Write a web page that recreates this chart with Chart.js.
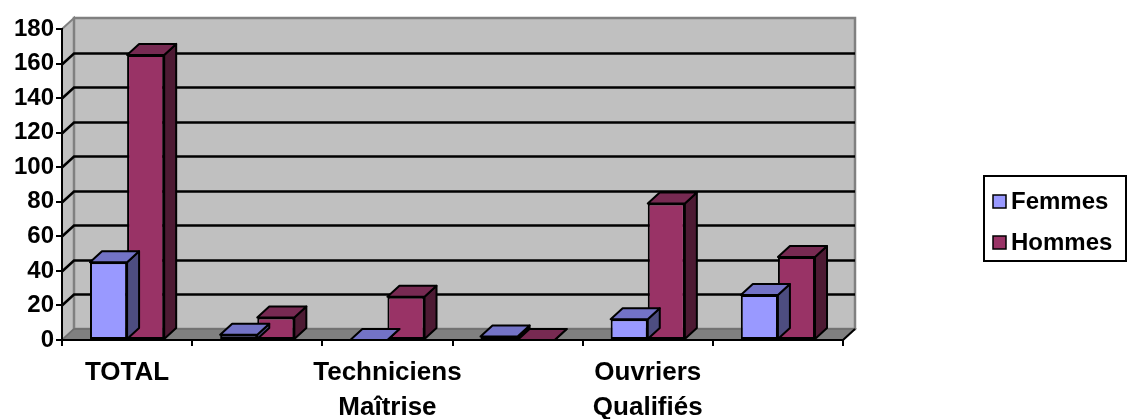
<!DOCTYPE html>
<html>
<head>
<meta charset="utf-8">
<script src="https://cdn.jsdelivr.net/npm/chart.js@4/dist/chart.umd.min.js"></script>
<style>
  html, body { margin: 0; padding: 0; background: #ffffff; }
  #wrap { width: 1127px; height: 419px; }
</style>
</head>
<body>
<div id="wrap"><canvas id="c" width="1127" height="419"></canvas></div>
<script>
// Categories (multi-line labels; unlabeled columns keep an empty name)
const categories = [['TOTAL'], [''], ['Techniciens', 'Maîtrise'], [''], ['Ouvriers', 'Qualifiés'], ['']];

// Head counts per category
const femmes = [45, 3, 0, 2, 12, 26];
const hommes = [165, 13, 25, 0, 79, 48];

// Value axis
const yMin = 0;
const yMax = 180;
const yStep = 20;

// Series colours: front, top, side
const faceColors = [
  { front: '#9999ff', top: '#7373c6', side: '#4d4d80' },
  { front: '#993366', top: '#772a52', side: '#4d1a33' }
];

// Perspective offset of the 3D depth
const depth = { dx: 12, dy: -11 };

function poly(ctx, pts, fill, stroke, lw) {
  ctx.beginPath();
  ctx.moveTo(pts[0][0], pts[0][1]);
  for (let i = 1; i < pts.length; i++) ctx.lineTo(pts[i][0], pts[i][1]);
  ctx.closePath();
  if (fill) { ctx.fillStyle = fill; ctx.fill(); }
  if (stroke) { ctx.strokeStyle = stroke; ctx.lineWidth = lw; ctx.stroke(); }
}

// Walls, floor and gridlines drawn behind the axes and bars
const wallsPlugin = {
  id: 'walls',
  beforeDraw(chart) {
    const { ctx, chartArea: a, scales: { y } } = chart;
    const { dx, dy } = depth;
    ctx.save();
    ctx.lineJoin = 'miter';
    // left side wall
    poly(ctx, [[a.left, a.top], [a.left + dx, a.top + dy], [a.left + dx, a.bottom + dy], [a.left, a.bottom]],
      '#c0c0c0', '#808080', 2);
    // back wall
    poly(ctx, [[a.left + dx, a.top + dy], [a.right + dx, a.top + dy], [a.right + dx, a.bottom + dy], [a.left + dx, a.bottom + dy]],
      '#c0c0c0', '#808080', 2.5);
    // floor
    poly(ctx, [[a.left, a.bottom], [a.left + dx, a.bottom + dy], [a.right + dx, a.bottom + dy], [a.right, a.bottom]],
      '#808080', '#6e6e6e', 1.5);
    // gridlines on side and back walls
    ctx.strokeStyle = '#000';
    ctx.lineWidth = 2.5;
    y.ticks.forEach(t => {
      if (t.value <= yMin || t.value >= yMax) return;
      const py = Math.round(y.getPixelForValue(t.value)) + 0.5;
      ctx.beginPath();
      ctx.moveTo(a.left, py);
      ctx.lineTo(a.left + dx, py + dy);
      ctx.lineTo(a.right + dx, py + dy);
      ctx.stroke();
    });
    // right end of the floor
    ctx.lineWidth = 2;
    ctx.beginPath();
    ctx.moveTo(a.right, a.bottom);
    ctx.lineTo(a.right + dx, a.bottom + dy);
    ctx.stroke();
    ctx.restore();
  }
};

// Top and side faces of each column, added after its series is drawn
const columnsPlugin = {
  id: 'columns3d',
  afterDatasetDraw(chart, args) {
    const { ctx } = chart;
    const { dx, dy } = depth;
    const col = faceColors[args.index];
    ctx.save();
    ctx.lineJoin = 'round';
    args.meta.data.forEach(el => {
      const p = el.getProps(['x', 'y', 'base', 'width'], true);
      const L = p.x - p.width / 2, R = p.x + p.width / 2;
      const top = p.y, base = p.base;
      poly(ctx, [[R, top], [R + dx, top + dy], [R + dx, base + dy], [R, base]], col.side, '#000', 2);
      poly(ctx, [[L, top], [L + dx, top + dy], [R + dx, top + dy], [R, top]], col.top, '#000', 2);
    });
    ctx.restore();
  }
};

// Boxed legend on the right
const legendPlugin = {
  id: 'boxLegend',
  afterDraw(chart) {
    const { ctx } = chart;
    const box = { x: 984, y: 176, w: 142, h: 85 };
    ctx.save();
    ctx.fillStyle = '#fff';
    ctx.fillRect(box.x, box.y, box.w, box.h);
    ctx.strokeStyle = '#000';
    ctx.lineWidth = 2;
    ctx.strokeRect(box.x, box.y, box.w, box.h);
    ctx.font = 'bold 24px "Liberation Sans"';
    ctx.textBaseline = 'middle';
    chart.data.datasets.forEach((ds, i) => {
      const cy = 201 + i * 41;
      ctx.fillStyle = ds.backgroundColor;
      ctx.fillRect(993, cy - 6, 13, 13);
      ctx.lineWidth = 1.5;
      ctx.strokeRect(993, cy - 6, 13, 13);
      ctx.fillStyle = '#000';
      ctx.fillText(ds.label, 1011, cy + 1);
    });
    ctx.restore();
  }
};

new Chart(document.getElementById('c'), {
  type: 'bar',
  data: {
    labels: categories,
    datasets: [
      { label: 'Femmes', data: femmes, backgroundColor: faceColors[0].front },
      { label: 'Hommes', data: hommes, backgroundColor: faceColors[1].front }
    ]
  },
  options: {
    responsive: false,
    animation: false,
    devicePixelRatio: 1,
    layout: { padding: { top: 29, right: 284, left: 0, bottom: 0 } },
    datasets: {
      bar: {
        borderColor: '#000',
        borderWidth: 2,
        borderSkipped: false,
        categoryPercentage: 0.57,
        barPercentage: 1
      }
    },
    plugins: { legend: { display: false }, tooltip: { enabled: false } },
    scales: {
      x: {
        grid: { display: true, drawOnChartArea: false, drawTicks: true, tickLength: 6, color: '#000', lineWidth: 2, offset: true },
        border: { display: true, color: '#000', width: 2 },
        ticks: {
          color: '#000',
          autoSkip: false,
          maxRotation: 0,
          padding: 9,
          font: { family: 'Liberation Sans', weight: 'bold', size: 26, lineHeight: 1.35 }
        },
        afterFit(s) { s.height = 79; }
      },
      y: {
        min: yMin,
        max: yMax,
        grid: { display: true, drawOnChartArea: false, drawTicks: true, tickLength: 6, color: '#000', lineWidth: 2 },
        border: { display: true, color: '#000', width: 2 },
        ticks: {
          stepSize: yStep,
          color: '#000',
          padding: 2,
          font: { family: 'Liberation Sans', weight: 'bold', size: 24 }
        },
        afterFit(s) { s.width = 62; }
      }
    }
  },
  plugins: [wallsPlugin, columnsPlugin, legendPlugin]
});
</script>
</body>
</html>
